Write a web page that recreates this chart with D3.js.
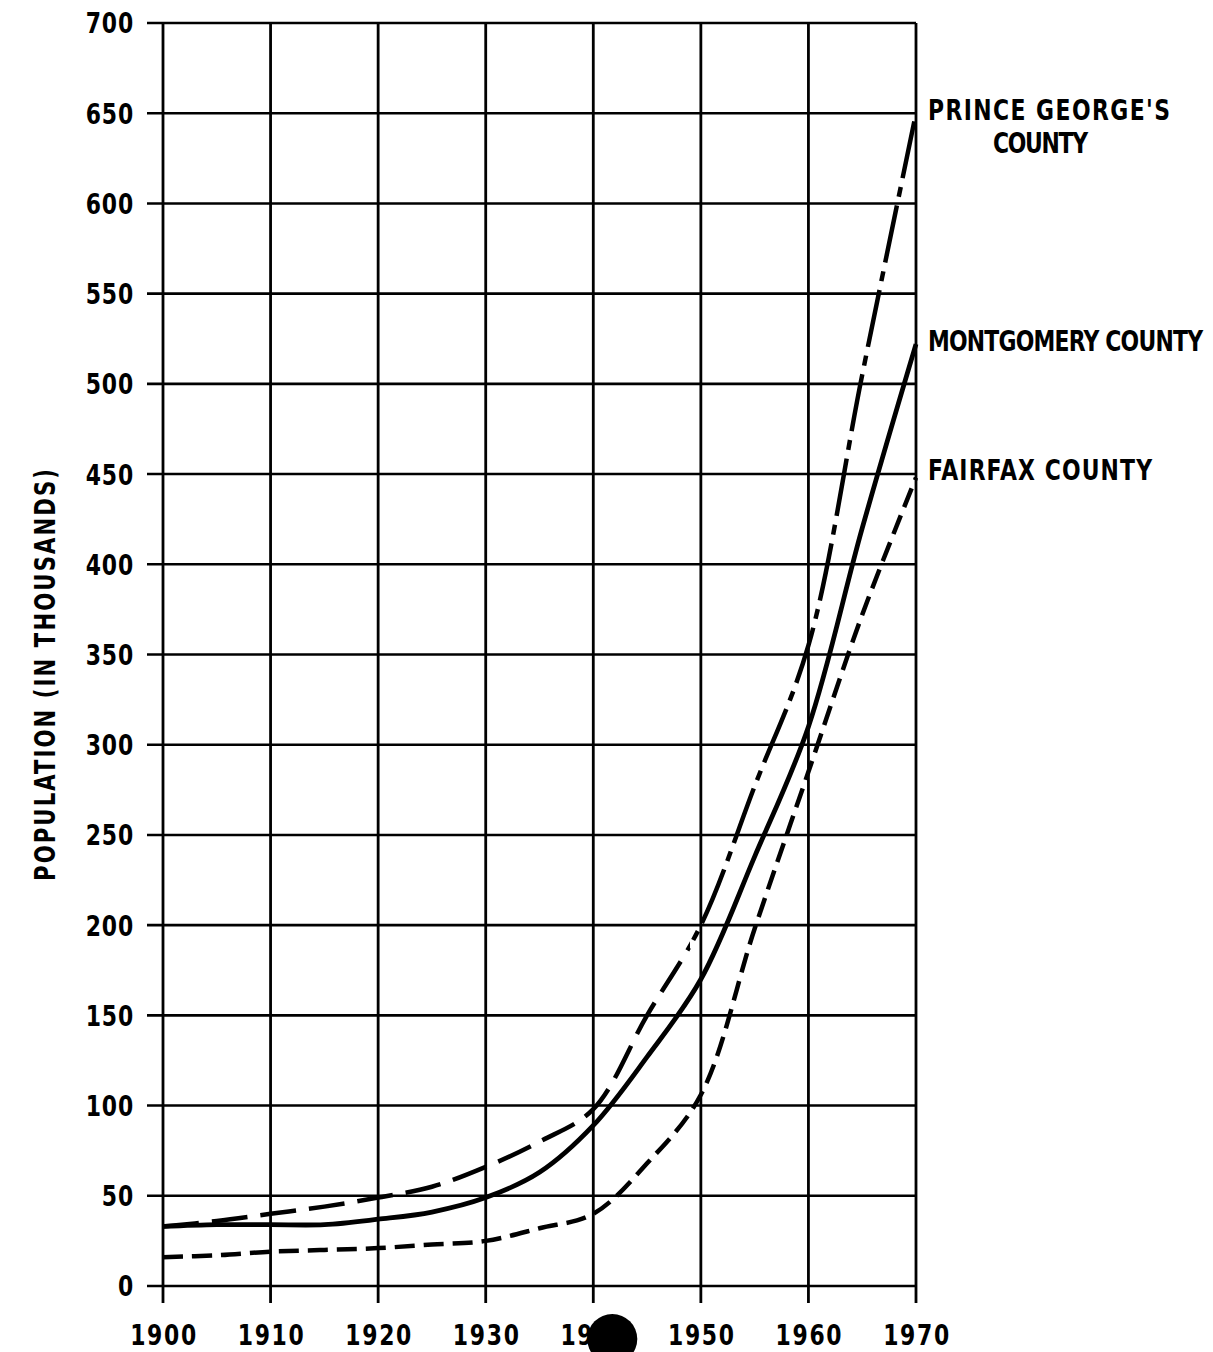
<!DOCTYPE html>
<html>
<head>
<meta charset="utf-8">
<script src="https://cdn.jsdelivr.net/npm/d3@7"></script>
<style>
html,body{margin:0;padding:0;background:#fff;}
text{font-family:"DejaVu Sans Condensed","DejaVu Sans",sans-serif;font-weight:bold;fill:#000;}
</style>
</head>
<body>
<svg id="chart" width="1213" height="1352"></svg>
<script>
const tickYears = [1900, 1910, 1920, 1930, 1940, 1950, 1960, 1970];
const years = [1900, 1905, 1910, 1915, 1920, 1925, 1930, 1935, 1940, 1945, 1950, 1955, 1960, 1965, 1970];
const yTicks = [0, 50, 100, 150, 200, 250, 300, 350, 400, 450, 500, 550, 600, 650, 700];
const princeGeorges = [33, 36, 40, 44, 49, 55, 66, 80, 98, 150, 200, 277, 355, 505, 650];
const montgomery = [33, 34, 34, 34, 37, 41, 49, 63, 89, 127, 170, 238, 310, 420, 522];
const fairfax = [16, 17, 19, 20, 21, 23, 25, 32, 40, 68, 106, 198, 285, 372, 448];
const labelLines = [["PRINCE GEORGE'S", "COUNTY"], ["MONTGOMERY COUNTY"], ["FAIRFAX COUNTY"]];
const yTitle = "POPULATION (IN THOUSANDS)";

const SX = 0.84; // horizontal squeeze for the narrow lettering

const svg = d3.select("#chart");
const x = d3.scaleLinear().domain([1900, 1970]).range([163, 916]);
const y = d3.scaleLinear().domain([0, 700]).range([1286, 23]);

// grid
const g = svg.append("g");
g.selectAll("line.h").data(yTicks).join("line")
  .attr("x1", 147).attr("x2", x(1970))
  .attr("y1", d => y(d)).attr("y2", d => y(d))
  .attr("stroke", "#000").attr("stroke-width", 2.6);
g.selectAll("line.v").data(tickYears).join("line")
  .attr("x1", d => x(d)).attr("x2", d => x(d))
  .attr("y1", y(700)).attr("y2", y(0) + 17)
  .attr("stroke", "#000").attr("stroke-width", 2.8);

// tick labels
g.selectAll("text.yl").data(yTicks).join("text")
  .attr("transform", d => `translate(134,${y(d)}) scale(${SX},1)`)
  .attr("dy", "0.36em")
  .attr("text-anchor", "end").attr("font-size", 29)
  .attr("letter-spacing", 1)
  .text(d => d);
g.selectAll("text.xl").data(tickYears).join("text")
  .attr("transform", d => `translate(${x(d) + 1},1345) scale(${SX},1)`)
  .attr("text-anchor", "middle").attr("font-size", 29)
  .attr("letter-spacing", 2)
  .text(d => d);

// y title
svg.append("text")
  .attr("transform", `translate(55,675) rotate(-90) scale(${SX},1)`)
  .attr("text-anchor", "middle").attr("font-size", 28)
  .attr("textLength", 412 / SX).attr("lengthAdjust", "spacing")
  .text(yTitle);

// lines
const line = d3.line().x((d, i) => x(years[i])).y(d => y(d)).curve(d3.curveCatmullRom.alpha(0.5));

const defs = svg.append("defs");
defs.append("clipPath").attr("id", "lowClip").append("rect")
  .attr("x", 0).attr("y", 0).attr("width", x(1949)).attr("height", 1352);
defs.append("clipPath").attr("id", "highClip").append("rect")
  .attr("x", x(1949)).attr("y", 0).attr("width", 1213 - x(1949)).attr("height", 1352);

// Prince George's: long dash below 1950, dash-dot above
svg.append("path").datum(princeGeorges).attr("d", line)
  .attr("fill", "none").attr("stroke", "#000").attr("stroke-width", 4.5)
  .attr("stroke-dasharray", "36,13").attr("clip-path", "url(#lowClip)");
svg.append("path").datum(princeGeorges).attr("d", line)
  .attr("fill", "none").attr("stroke", "#000").attr("stroke-width", 4.5)
  .attr("stroke-dasharray", "58,9,10,9").attr("stroke-dashoffset", 20)
  .attr("clip-path", "url(#highClip)");

// Montgomery solid
svg.append("path").datum(montgomery).attr("d", line)
  .attr("fill", "none").attr("stroke", "#000").attr("stroke-width", 4.8);

// Fairfax short dash
svg.append("path").datum(fairfax).attr("d", line)
  .attr("fill", "none").attr("stroke", "#000").attr("stroke-width", 4.5)
  .attr("stroke-dasharray", "20,9");

// series labels
const lx = x(1970) + 12;
const lastVals = [princeGeorges[14], montgomery[14], fairfax[14]];
const widths = [[242, 95], [275], [224]];
labelLines.forEach((lines, i) => {
  lines.forEach((t, j) => {
    const tx = j === 0 ? lx : lx + 65;
    const ty = y(lastVals[i]) + (i === 2 ? 2 : 7) + j * 33;
    svg.append("text")
      .attr("transform", `translate(${tx},${ty}) scale(${SX},1)`)
      .attr("font-size", 29)
      .attr("textLength", widths[i][j] / SX).attr("lengthAdjust", "spacing")
      .text(t);
  });
});

// black blot over the 1940 label
svg.append("circle").attr("cx", x(1940) + 19).attr("cy", 1339).attr("r", 25).attr("fill", "#000");
</script>
</body>
</html>
